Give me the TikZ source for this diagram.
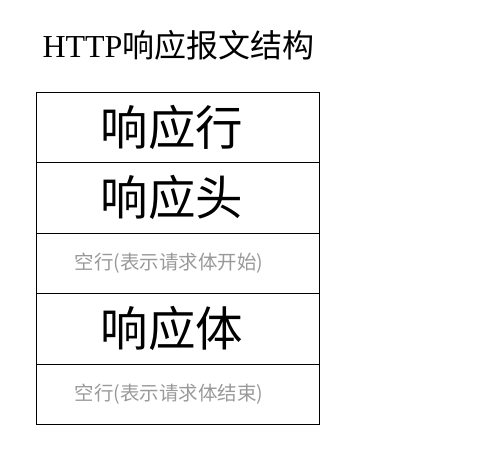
\documentclass[tikz,border=0pt]{standalone}
\usepackage{fontspec}
\setmainfont{Liberation Serif}
\newfontfamily\cjk{Noto Sans CJK SC}
\usetikzlibrary{positioning}

\begin{document}
\begin{tikzpicture}[x=1pt, y=1pt]
\tikzstyle{row} = [draw, line width=0.8pt, minimum width=283pt, inner sep=0pt, outer sep=0pt, anchor=north]
\tikzstyle{big} = [row, font=\cjk\fontsize{47.5}{47.5}\selectfont, execute at end node=\hspace*{11pt}]
\tikzstyle{blank} = [row, minimum height=60pt, text=black!40, font=\cjk\fontsize{19.5}{19.5}\selectfont, execute at end node=\hspace*{17pt}]
\useasboundingbox (0,0) rectangle (495,452);

\node (title) at (178.5,407) {\fontsize{32}{32}\selectfont HTTP{\cjk 响应报文结构}};

\node[big, minimum height=70pt] (hang) at (177.5,360) {响应行};
\node[big, minimum height=71pt, below=0pt of hang] (tou) {响应头};
\node[blank, below=0pt of tou] (kongA) {空行(表示请求体开始)};
\node[big, minimum height=71pt, below=0pt of kongA] (ti) {响应体};
\node[blank, below=0pt of ti] (kongB) {空行(表示请求体结束)};
\end{tikzpicture}
\end{document}
